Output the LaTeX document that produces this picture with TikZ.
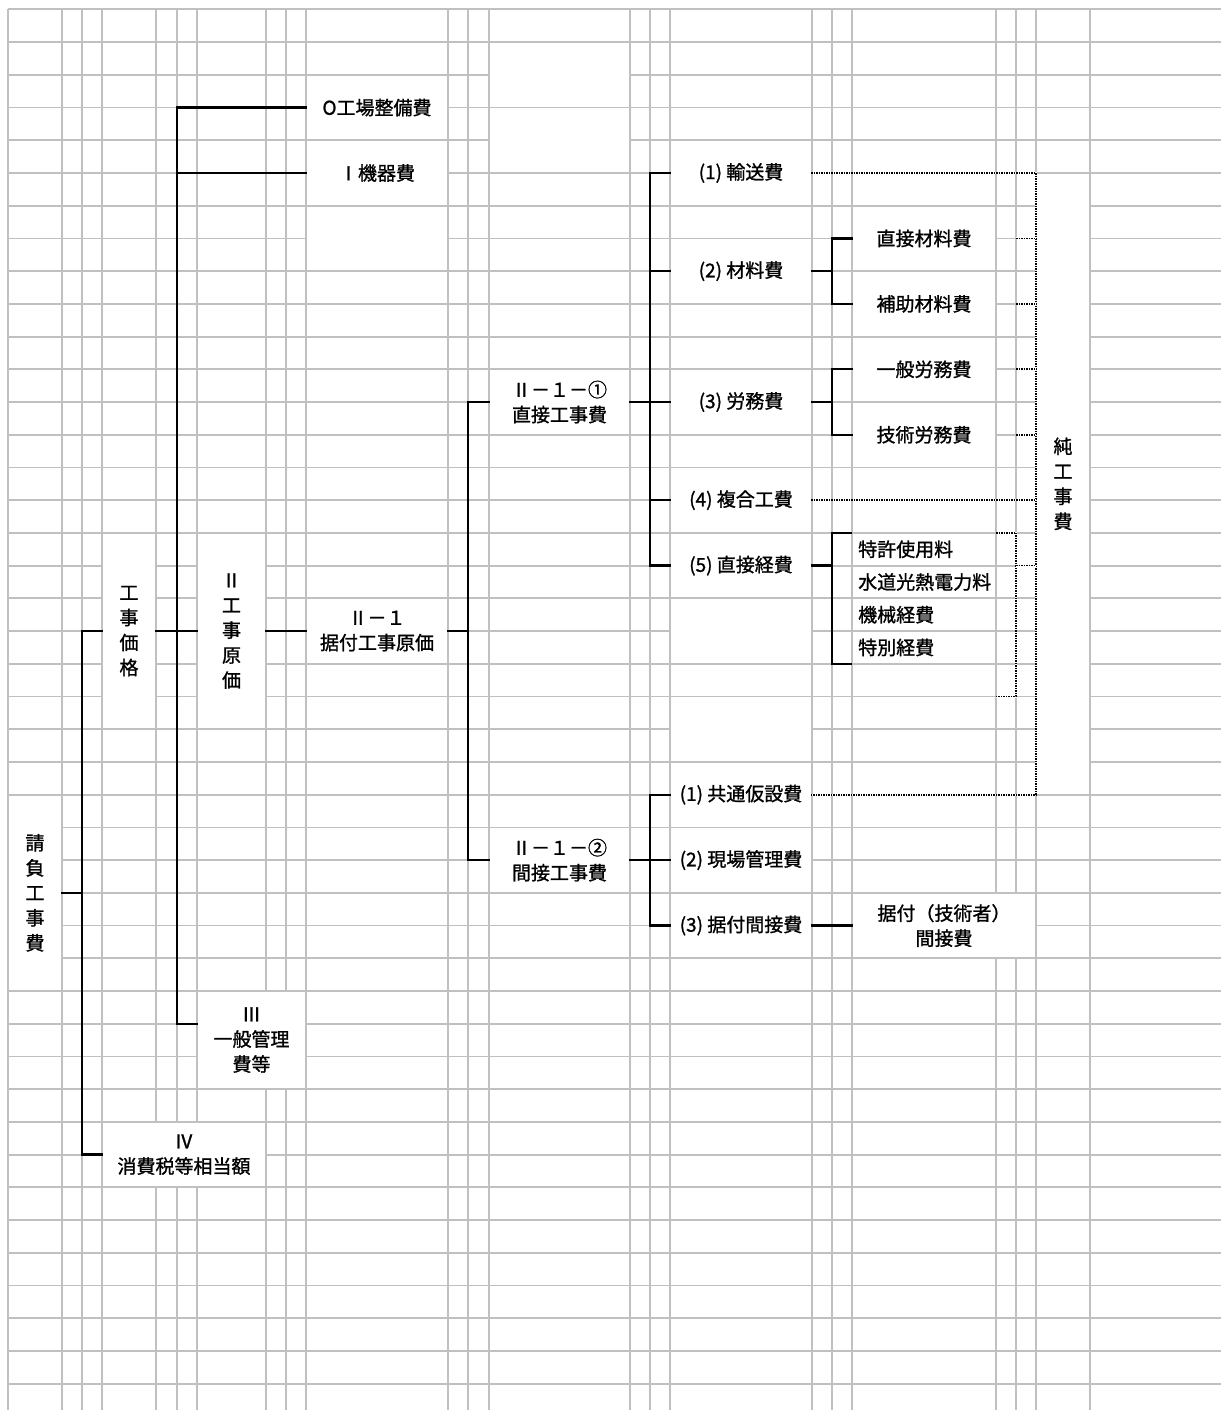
\documentclass[tikz,border=0pt]{standalone}
\usepackage{fontspec}
\newfontfamily\jp{Noto Sans CJK JP}[FakeBold=1.2]
\usepackage{tikz}
\usetikzlibrary{calc}
\definecolor{gridgray}{RGB}{192,192,192}

\begin{document}
\begin{tikzpicture}[x=1pt,y=-1pt,
  declare function={ry(\k)=9.4+32.72*\k;},
  gridline/.style={draw=gridgray, line width=1.8pt},
  branch/.style={line width=2.3pt},
  dotline/.style={line width=1.7pt, dash pattern=on 1.5pt off 1pt,
    preaction={draw=white, solid, line width=2pt}},
  cellbox/.style={fill=white, inner sep=0pt, align=center,
    font={\jp\fontsize{19}{25}\selectfont}},
  celltext/.style={inner sep=0pt, anchor=west, font={\jp\fontsize{19}{25}\selectfont}}]
\useasboundingbox (0,0) rectangle (1221,1410);

% sheet grid
\foreach \x in {8,62,82,102,156,177,197,266,286,306,448,468,489,630,650,670,812,832,852,996,1016,1036,1090}
  \draw[gridline] (\x,{ry(0)}) -- (\x,1410);
\foreach \k in {0,...,42}
  \draw[gridline] (8,{ry(\k)}) -- (1221,{ry(\k)});

% merged empty cells
\fill[white] (307,{ry(6)+1}) rectangle (447,{ry(8)-1});
\fill[white] (490,{ry(1)+1}) rectangle (629,{ry(3)-1});
\fill[white] (490,{ry(3)+1}) rectangle (629,{ry(5)-1});
\fill[white] (671,{ry(18)+1}) rectangle (811,{ry(20)-1});
\fill[white] (671,{ry(21)+1}) rectangle (811,{ry(23)-1});

% cells
\node[cellbox, minimum width=52pt, minimum height=194.3pt] (ukeoi) at (35,{ry(27)}) {請\\負\\工\\事\\費};
\node[cellbox, minimum width=52pt, minimum height=194.3pt] (kakaku) at (129,{ry(19)}) {工\\事\\価\\格};
\node[cellbox, minimum width=67pt, minimum height=194.3pt] (genka) at (231.5,{ry(19)}) {Ⅱ\\工\\事\\原\\価};
\node[cellbox, minimum width=140pt, minimum height=63.4pt] (seibi) at (377,{ry(3)}) {O工場整備費};
\node[cellbox, minimum width=140pt, minimum height=63.4pt] (kiki) at (377,{ry(5)}) {Ⅰ機器費};
\node[cellbox, minimum width=140pt, minimum height=63.4pt] (suetsuke) at (377,{ry(19)}) {Ⅱ－１\\据付工事原価};
\node[cellbox, minimum width=107pt, minimum height=96.2pt] (kanri) at (251.5,{ry(31.5)}) {Ⅲ\\一般管理\\費等};
\node[cellbox, minimum width=162pt, minimum height=63.4pt] (shohi) at (184,{ry(35)}) {Ⅳ\\消費税等相当額};
\node[cellbox, minimum width=139pt, minimum height=63.4pt] (chokusetsu) at (559.5,{ry(12)}) {Ⅱ－１－①\\直接工事費};
\node[cellbox, minimum width=139pt, minimum height=63.4pt] (kansetsu) at (559.5,{ry(26)}) {Ⅱ－１－②\\間接工事費};
\node[cellbox, minimum width=140pt, minimum height=63.4pt] (yuso) at (741,{ry(5)}) {(1) 輸送費};
\node[cellbox, minimum width=140pt, minimum height=63.4pt] (zairyo) at (741,{ry(8)}) {(2) 材料費};
\node[cellbox, minimum width=140pt, minimum height=63.4pt] (romu) at (741,{ry(12)}) {(3) 労務費};
\node[cellbox, minimum width=140pt, minimum height=63.4pt] (fukugo) at (741,{ry(15)}) {(4) 複合工費};
\node[cellbox, minimum width=140pt, minimum height=63.4pt] (keihi) at (741,{ry(17)}) {(5) 直接経費};
\node[cellbox, minimum width=140pt, minimum height=63.4pt] (kyotsu) at (741,{ry(24)}) {(1) 共通仮設費};
\node[cellbox, minimum width=140pt, minimum height=63.4pt] (genba) at (741,{ry(26)}) {(2) 現場管理費};
\node[cellbox, minimum width=140pt, minimum height=63.4pt] (suekan) at (741,{ry(28)}) {(3) 据付間接費};
\node[cellbox, minimum width=142pt, minimum height=63.4pt] (chokuzai) at (924,{ry(7)}) {直接材料費};
\node[cellbox, minimum width=142pt, minimum height=63.4pt] (hojo) at (924,{ry(9)}) {補助材料費};
\node[cellbox, minimum width=142pt, minimum height=63.4pt] (ippan) at (924,{ry(11)}) {一般労務費};
\node[cellbox, minimum width=142pt, minimum height=63.4pt] (gijutsu) at (924,{ry(13)}) {技術労務費};
\node[cellbox, minimum width=182pt, minimum height=63.4pt] (gishu) at (944,{ry(28)}) {据付（技術者）\\間接費};
\node[cellbox, minimum width=52pt, minimum height=619.7pt] (jun) at (1063,{ry(14.5)}) {純\\工\\事\\費};
\node[celltext] (tokkyo) at (858,{ry(16.5)}) {特許使用料};
\node[celltext] (suido) at (858,{ry(17.5)}) {水道光熱電力料};
\node[celltext] (kikai) at (858,{ry(18.5)}) {機械経費};
\node[celltext] (tokubetsu) at (858,{ry(19.5)}) {特別経費};

% tree
\coordinate (bus0) at (82,{ry(19)});
\coordinate (bus1) at (177,{ry(31)});
\coordinate (bus2) at (468,{ry(19)});
\coordinate (bus3) at (650,{ry(17)});
\coordinate (bus4) at (650,{ry(28)});
\coordinate (bus5) at (832,{ry(9)});
\coordinate (bus6) at (832,{ry(13)});
\coordinate (bus7) at (832,{ry(20)});
\coordinate (ktop) at (852,{ry(16)});
\coordinate (kbot) at (852,{ry(20)});
\draw[branch] (ukeoi.east) -- (ukeoi.east -| bus0);
\draw[branch] (kakaku.west) -- (bus0) |- (shohi.west);
\draw[branch] (kakaku.east) -- (genka.west);
\draw[branch] (seibi.west) -| (bus1) -- (kanri.west |- bus1);
\draw[branch] (kiki.west) -- (kiki.west -| bus1);
\draw[branch] (genka.east) -- (suetsuke.west);
\draw[branch] (suetsuke.east) -- (bus2);
\draw[branch] (chokusetsu.west) -| (bus2) |- (kansetsu.west);
\draw[branch] (chokusetsu.east) -- (romu.west);
\draw[branch] (yuso.west) -| (bus3) -- (keihi.west);
\draw[branch] (zairyo.west) -- (zairyo.west -| bus3);
\draw[branch] (fukugo.west) -- (fukugo.west -| bus3);
\draw[branch] (kansetsu.east) -- (genba.west);
\draw[branch] (kyotsu.west) -| (bus4) -- (suekan.west);
\draw[branch] (zairyo.east) -- (zairyo.east -| bus5);
\draw[branch] (chokuzai.west) -| (bus5) -- (hojo.west);
\draw[branch] (romu.east) -- (romu.east -| bus6);
\draw[branch] (ippan.west) -| (bus6) -- (gijutsu.west);
\draw[branch] (keihi.east) -- (keihi.east -| bus7);
\draw[branch] (ktop) -| (bus7) -- (kbot);
\draw[branch] (suekan.east) -- (gishu.west);

% net cost links
\coordinate (dcol) at (1036,{ry(24)});
\coordinate (dtick) at (1016,{ry(16)});
\coordinate (dtop) at (996,{ry(16)});
\coordinate (dbot) at (996,{ry(21)});
\coordinate (dmid) at (1016,{ry(17)});
\draw[dotline] (yuso.east) -| (dcol) -- (kyotsu.east);
\draw[dotline] (fukugo.east) -- (fukugo.east -| dcol);
\draw[dotline] (chokuzai.east -| dtick) -- (chokuzai.east -| dcol);
\draw[dotline] (hojo.east -| dtick) -- (hojo.east -| dcol);
\draw[dotline] (ippan.east -| dtick) -- (ippan.east -| dcol);
\draw[dotline] (gijutsu.east -| dtick) -- (gijutsu.east -| dcol);
\draw[dotline] (dtop) -- (dtick) |- (dbot);
\draw[dotline] (dmid) -- (dmid -| dcol);
\end{tikzpicture}
\end{document}
